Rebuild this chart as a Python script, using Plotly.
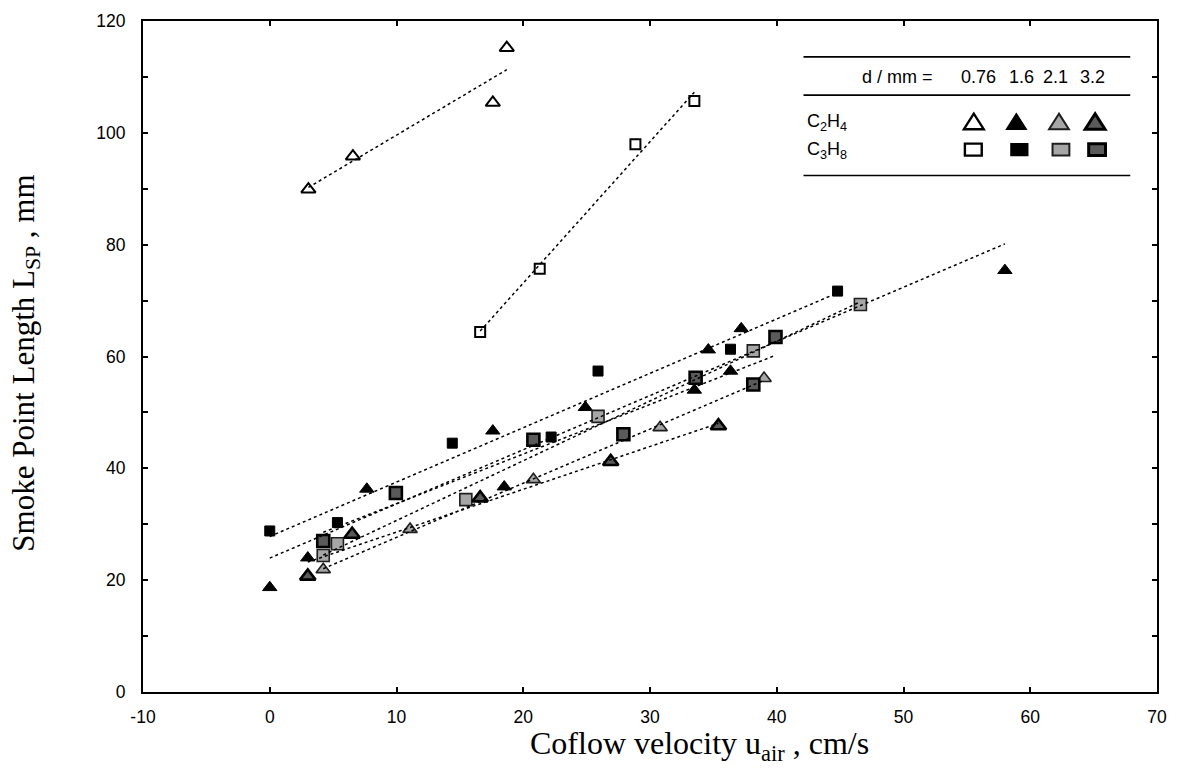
import numpy as np
import plotly.graph_objects as go

# Smoke point length vs. coflow velocity, by fuel and burner diameter
c2h4_076_x = [3.05, 6.56, 17.6, 18.7]
c2h4_076_y = [89.9, 95.8, 105.4, 115.2]
c3h8_076_x = [16.6, 21.3, 28.85, 33.5]
c3h8_076_y = [64.4, 75.7, 97.95, 105.7]

c2h4_16_x = [0.0, 3.0, 7.66, 17.6, 18.5, 24.9, 33.5, 34.6, 36.35, 37.2, 58.0]
c2h4_16_y = [18.7, 24.0, 36.3, 46.7, 36.7, 50.9, 54.0, 61.2, 57.4, 65.0, 75.4]
c3h8_16_x = [0.0, 5.34, 14.4, 22.2, 25.9, 36.35, 44.8]
c3h8_16_y = [28.8, 30.3, 44.5, 45.6, 57.4, 61.3, 71.7]

c2h4_21_x = [4.22, 11.07, 20.8, 30.8, 39.0]
c2h4_21_y = [21.9, 29.1, 38.0, 47.3, 56.1]
c3h8_21_x = [4.22, 5.34, 15.47, 25.9, 38.15, 46.6]
c3h8_21_y = [24.4, 26.5, 34.4, 49.3, 61.0, 69.3]

c2h4_32_x = [3.0, 6.5, 16.6, 26.9, 35.4]
c2h4_32_y = [20.7, 28.2, 34.7, 41.2, 47.6]
c3h8_32_x = [4.22, 9.95, 20.8, 27.9, 33.6, 38.15, 39.9]
c3h8_32_y = [27.0, 35.6, 45.1, 46.1, 56.2, 55.0, 63.5]

x_tick_vals = [-10, 0, 10, 20, 30, 40, 50, 60, 70]
x_tick_text = ["-10", "0", "10", "20", "30", "40", "50", "60", "70"]

diam_labels = ["0.76", "1.6", "2.1", "3.2"]
fuel_labels = ["C<sub>2</sub>H<sub>4</sub>", "C<sub>3</sub>H<sub>8</sub>"]

SANS = "Liberation Sans, Arial, sans-serif"
SERIF = "Liberation Serif, Times New Roman, serif"

# fill / outline per diameter (open, black, light grey, dark grey)
fills = ["white", "black", "#a6a6a6", "#5a5a5a"]
edges = ["black", "black", "#1e1e1e", "black"]
edge_w = [2, 1, 1.6, 2.6]
tri_sizes = [12.5, 12.5, 12.5, 13.5]
sq_sizes = [10, 10, 12, 12]

series = [
    (c2h4_076_x, c2h4_076_y, "triangle-up", 0),
    (c3h8_076_x, c3h8_076_y, "square", 0),
    (c2h4_16_x, c2h4_16_y, "triangle-up", 1),
    (c3h8_16_x, c3h8_16_y, "square", 1),
    (c2h4_21_x, c2h4_21_y, "triangle-up", 2),
    (c3h8_21_x, c3h8_21_y, "square", 2),
    (c2h4_32_x, c2h4_32_y, "triangle-up", 3),
    (c3h8_32_x, c3h8_32_y, "square", 3),
]

fig = go.Figure()

for xs, ys, sym, k in series:
    size = tri_sizes[k] if sym == "triangle-up" else sq_sizes[k]
    fig.add_trace(go.Scatter(
        x=xs, y=ys, mode="markers", showlegend=False, cliponaxis=False,
        marker=dict(symbol=sym, size=size, color=fills[k],
                    line=dict(color=edges[k], width=edge_w[k])),
    ))

# least-squares trend line for each series, over its own velocity range
for xs, ys, sym, k in series:
    slope, icpt = np.polyfit(xs, ys, 1)
    xr = np.array([min(xs), max(xs)])
    fig.add_trace(go.Scatter(
        x=xr, y=slope * xr + icpt, mode="lines", showlegend=False,
        line=dict(color="black", width=1.5, dash="dot"),
    ))

# ---- key box (paper coordinates) ----
PX = 1 / 1024.0   # one pixel along x in paper units
PY = 1 / 673.0    # one pixel along y in paper units

def px2paper(px, py):
    return (px - 143) * PX, (692 - py) * PY

shapes = []
for ypix in [55, 93.3, 174]:
    x0, yy = px2paper(810, ypix)
    x1, _ = px2paper(1140, ypix)
    shapes.append(dict(type="line", xref="paper", yref="paper",
                       x0=x0, x1=x1, y0=yy, y1=yy,
                       line=dict(color="black", width=1.6)))

tri_cx = [982, 1025, 1068, 1104.5]
sq_cx = [981.5, 1028, 1070, 1106.5]
for k in range(4):
    # triangle key
    cx, cy = tri_cx[k], 120
    ax, ay = px2paper(cx, cy - 8)
    bx, by = px2paper(cx - 10, cy + 7.5)
    qx, qy = px2paper(cx + 10, cy + 7.5)
    shapes.append(dict(type="path", xref="paper", yref="paper",
                       path=f"M {ax},{ay} L {bx},{by} L {qx},{qy} Z",
                       fillcolor=fills[k],
                       line=dict(color=edges[k], width=edge_w[k] + 0.4)))
    # rectangle key
    cx, cy = sq_cx[k], 148
    rx0, ry0 = px2paper(cx - 8.5, cy + 6)
    rx1, ry1 = px2paper(cx + 8.5, cy - 6)
    shapes.append(dict(type="rect", xref="paper", yref="paper",
                       x0=rx0, x1=rx1, y0=ry0, y1=ry1,
                       fillcolor=fills[k],
                       line=dict(color=edges[k], width=edge_w[k] + 0.4)))

annotations = []
hx, hy = px2paper(943, 75)
annotations.append(dict(text="d / mm =", x=hx, y=hy, xanchor="right", yanchor="middle"))
for lbl, cx in zip(diam_labels, [987, 1030, 1065, 1102]):
    lx, _ = px2paper(cx, 75)
    annotations.append(dict(text=lbl, x=lx, y=hy, xanchor="center", yanchor="middle"))
for lbl, cy in zip(fuel_labels, [121, 149]):
    lx, ly = px2paper(812, cy)
    annotations.append(dict(text=lbl, x=lx, y=ly, xanchor="left", yanchor="middle"))
for a in annotations:
    a.update(xref="paper", yref="paper", showarrow=False,
             font=dict(family=SANS, size=18, color="black"))

tx, ty = px2paper(704.5, 746)
annotations.append(dict(
    text="Coflow velocity u<sub>air</sub> , cm/s", xref="paper", yref="paper",
    x=tx, y=ty, xanchor="center", yanchor="middle", showarrow=False,
    font=dict(family=SERIF, size=32, color="black")))
tx, ty = px2paper(25, 362.5)
annotations.append(dict(
    text="Smoke Point Length L<sub>SP</sub> , mm", xref="paper", yref="paper",
    x=tx, y=ty, xanchor="center", yanchor="middle", showarrow=False,
    textangle=-90, font=dict(family=SERIF, size=31, color="black")))

axis_common = dict(
    showgrid=False, zeroline=False, showline=True, linecolor="black",
    linewidth=2, mirror="ticks", ticks="inside", ticklen=5, tickwidth=2,
    tickcolor="black", tickfont=dict(family=SANS, size=17.5, color="black"),
)

fig.update_layout(
    width=1178, height=773,
    margin=dict(l=143, r=11, t=19, b=81),
    paper_bgcolor="white", plot_bgcolor="white",
    xaxis=dict(range=[-10, 70], tickmode="array", tickvals=x_tick_vals,
               ticktext=x_tick_text, ticklabelstandoff=8, **axis_common),
    yaxis=dict(range=[0, 120], tick0=0, dtick=20, ticklabelstandoff=12,
               minor=dict(dtick=10, ticks="inside", ticklen=5, tickwidth=2,
                          tickcolor="black"),
               **axis_common),
    annotations=annotations,
    shapes=shapes,
    showlegend=False,
)

fig.write_html("out.html")
